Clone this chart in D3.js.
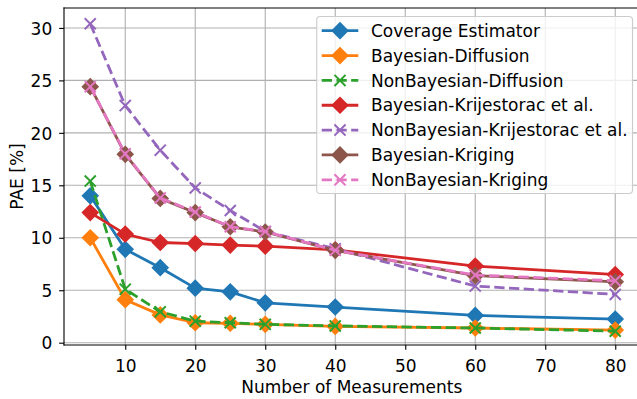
<!DOCTYPE html>
<html>
<head>
<meta charset="utf-8">
<script src="https://cdn.jsdelivr.net/npm/d3@7"></script>
<style>
  html, body { margin: 0; padding: 0; background: #fff; }
  svg { display: block; font-family: "DejaVu Sans", sans-serif; }
</style>
</head>
<body>
<svg id="chart" width="637" height="399"></svg>
<script>
// ---- data ----
const measurements = [5, 10, 15, 20, 25, 30, 40, 60, 80];
const coverageEstimator      = [14.0, 8.9, 7.15, 5.2, 4.85, 3.8, 3.4, 2.6, 2.25];
const bayesianDiffusion      = [10.0, 4.1, 2.65, 1.9, 1.85, 1.75, 1.55, 1.4, 1.2];
const nonBayesianDiffusion   = [15.4, 5.1, 2.95, 2.05, 1.9, 1.75, 1.6, 1.4, 1.1];
const bayesianKrijestorac    = [12.4, 10.35, 9.55, 9.45, 9.3, 9.2, 8.85, 7.3, 6.5];
const nonBayesianKrijestorac = [30.4, 22.6, 18.35, 14.75, 12.6, 10.6, 8.95, 5.4, 4.6];
const bayesianKriging        = [24.4, 17.95, 13.75, 12.4, 11.05, 10.55, 8.8, 6.4, 5.8];
const nonBayesianKriging     = [24.4, 18.0, 13.8, 12.45, 11.05, 10.6, 8.8, 6.45, 5.9];
const seriesNames = ["Coverage Estimator", "Bayesian-Diffusion", "NonBayesian-Diffusion",
  "Bayesian-Krijestorac et al.", "NonBayesian-Krijestorac et al.", "Bayesian-Kriging", "NonBayesian-Kriging"];
const xTicks = [10, 20, 30, 40, 50, 60, 70, 80];
const yTicks = [0, 5, 10, 15, 20, 25, 30];
const xLabel = "Number of Measurements";
const yLabel = "PAE [%]";

// ---- styles ----
const colors = ["#1f77b4", "#ff7f0e", "#2ca02c", "#d62728", "#9467bd", "#8c564b", "#e377c2"];
const markers = ["D", "D", "x", "D", "x", "D", "x"];
const dashed = [false, false, true, false, true, false, true];
const allValues = [coverageEstimator, bayesianDiffusion, nonBayesianDiffusion, bayesianKrijestorac,
  nonBayesianKrijestorac, bayesianKriging, nonBayesianKriging];

const series = seriesNames.map((name, i) => ({
  name, color: colors[i], marker: markers[i], dashed: dashed[i],
  points: measurements.map((m, j) => ({x: m, y: allValues[i][j]}))
}));

const FS = 17;
const LW = 2.78;
const MS = 11.1;
const plot = {left: 64, right: 641.5, top: 8, bottom: 345};

const svg = d3.select("#chart");
const x = d3.scaleLinear().domain([1.25, 83.75]).range([plot.left, plot.right]);
const y = d3.scaleLinear().domain([-0.22, 31.9]).range([plot.bottom, plot.top]);

// grid
const grid = svg.append("g");
grid.selectAll("line.gx").data(xTicks).join("line")
  .attr("x1", d => x(d)).attr("x2", d => x(d))
  .attr("y1", plot.top).attr("y2", plot.bottom)
  .attr("stroke", "#b0b0b0").attr("stroke-width", 1.11);
grid.selectAll("line.gy").data(yTicks).join("line")
  .attr("x1", plot.left).attr("x2", plot.right)
  .attr("y1", d => y(d)).attr("y2", d => y(d))
  .attr("stroke", "#b0b0b0").attr("stroke-width", 1.11);

// series
const line = d3.line().x(d => x(d.x)).y(d => y(d.y));
function diamondPath(cx, cy, r) {
  return `M${cx},${cy - r}L${cx + r},${cy}L${cx},${cy + r}L${cx - r},${cy}Z`;
}
function xPath(cx, cy, r) {
  return `M${cx - r},${cy - r}L${cx + r},${cy + r}M${cx - r},${cy + r}L${cx + r},${cy - r}`;
}
function drawMarker(g, s, cx, cy) {
  if (s.marker === "D") {
    g.append("path").attr("d", diamondPath(cx, cy, MS * 0.7071))
      .attr("fill", s.color).attr("stroke", s.color).attr("stroke-width", 1.39)
      .attr("stroke-linejoin", "miter");
  } else {
    g.append("path").attr("d", xPath(cx, cy, MS / 2))
      .attr("fill", "none").attr("stroke", s.color).attr("stroke-width", 2.0)
      .attr("stroke-linecap", "butt");
  }
}

svg.append("clipPath").attr("id", "clip").append("rect")
  .attr("x", plot.left).attr("y", plot.top)
  .attr("width", plot.right - plot.left).attr("height", plot.bottom - plot.top);

const dataG = svg.append("g");
series.forEach(s => {
  const g = dataG.append("g");
  g.append("path").datum(s.points).attr("d", line)
    .attr("fill", "none").attr("stroke", s.color).attr("stroke-width", LW)
    .attr("stroke-linejoin", "round").attr("stroke-linecap", s.dashed ? "butt" : "square")
    .attr("stroke-dasharray", s.dashed ? `${3.7 * LW},${1.6 * LW}` : null)
    .attr("clip-path", "url(#clip)");
  s.points.forEach(p => drawMarker(g, s, x(p.x), y(p.y)));
});

// axes
const TL = 4.86;
const xAxis = svg.append("g").attr("transform", `translate(0,${plot.bottom})`)
  .call(d3.axisBottom(x).tickValues(xTicks).tickSize(TL).tickPadding(TL).tickFormat(d3.format("d")));
xAxis.select(".domain").remove();
xAxis.selectAll(".tick line").attr("stroke", "#000").attr("stroke-width", 1.11);
xAxis.selectAll(".tick text").attr("y", 27).attr("dy", 0)
  .attr("font-size", FS).attr("font-family", "DejaVu Sans").attr("fill", "#000");

const yAxis = svg.append("g").attr("transform", `translate(${plot.left},0)`)
  .call(d3.axisLeft(y).tickValues(yTicks).tickSize(TL).tickPadding(TL).tickFormat(d3.format("d")));
yAxis.select(".domain").remove();
yAxis.selectAll(".tick line").attr("stroke", "#000").attr("stroke-width", 1.11);
yAxis.selectAll(".tick text").attr("x", -11.8).attr("dy", 6.2)
  .attr("font-size", FS).attr("font-family", "DejaVu Sans").attr("fill", "#000");

// spines
const sp = svg.append("g").attr("stroke", "#000").attr("stroke-width", 1.11).attr("stroke-linecap", "square");
sp.append("line").attr("x1", plot.left).attr("x2", plot.left).attr("y1", plot.top).attr("y2", plot.bottom);
sp.append("line").attr("x1", plot.right).attr("x2", plot.right).attr("y1", plot.top).attr("y2", plot.bottom);
sp.append("line").attr("x1", plot.left).attr("x2", plot.right).attr("y1", plot.top).attr("y2", plot.top);
sp.append("line").attr("x1", plot.left).attr("x2", plot.right).attr("y1", plot.bottom).attr("y2", plot.bottom);

// axis labels
svg.append("text").attr("x", (plot.left + plot.right) / 2 - 1).attr("y", 393)
  .attr("text-anchor", "middle").attr("font-size", FS).text(xLabel);
svg.append("text").attr("transform", `translate(22.5,${(plot.top + plot.bottom) / 2}) rotate(-90)`)
  .attr("text-anchor", "middle").attr("font-size", FS).text(yLabel);

// legend
const leg = svg.append("g");
const legBox = {x: 316.7, y: 16.5, w: 632.5 - 316.7, h: 193.5 - 16.5};
leg.append("rect").attr("x", legBox.x).attr("y", legBox.y).attr("width", legBox.w).attr("height", legBox.h)
  .attr("rx", 3.5).attr("fill", "#fff").attr("fill-opacity", 0.8)
  .attr("stroke", "#cccccc").attr("stroke-width", 1.11);
const rowY0 = 30.7, rowStep = 24.85;
series.forEach((s, i) => {
  const cy = rowY0 + i * rowStep;
  const g = leg.append("g");
  g.append("line").attr("x1", 321.7).attr("x2", 358.3).attr("y1", cy).attr("y2", cy)
    .attr("stroke", s.color).attr("stroke-width", LW)
    .attr("stroke-dasharray", s.dashed ? `${3.7 * LW},${1.6 * LW}` : null);
  drawMarker(g, s, 340, cy);
  g.append("text").attr("x", 371).attr("y", cy + 6.2).attr("font-size", FS).attr("fill", "#000").text(s.name);
});
</script>
</body>
</html>
